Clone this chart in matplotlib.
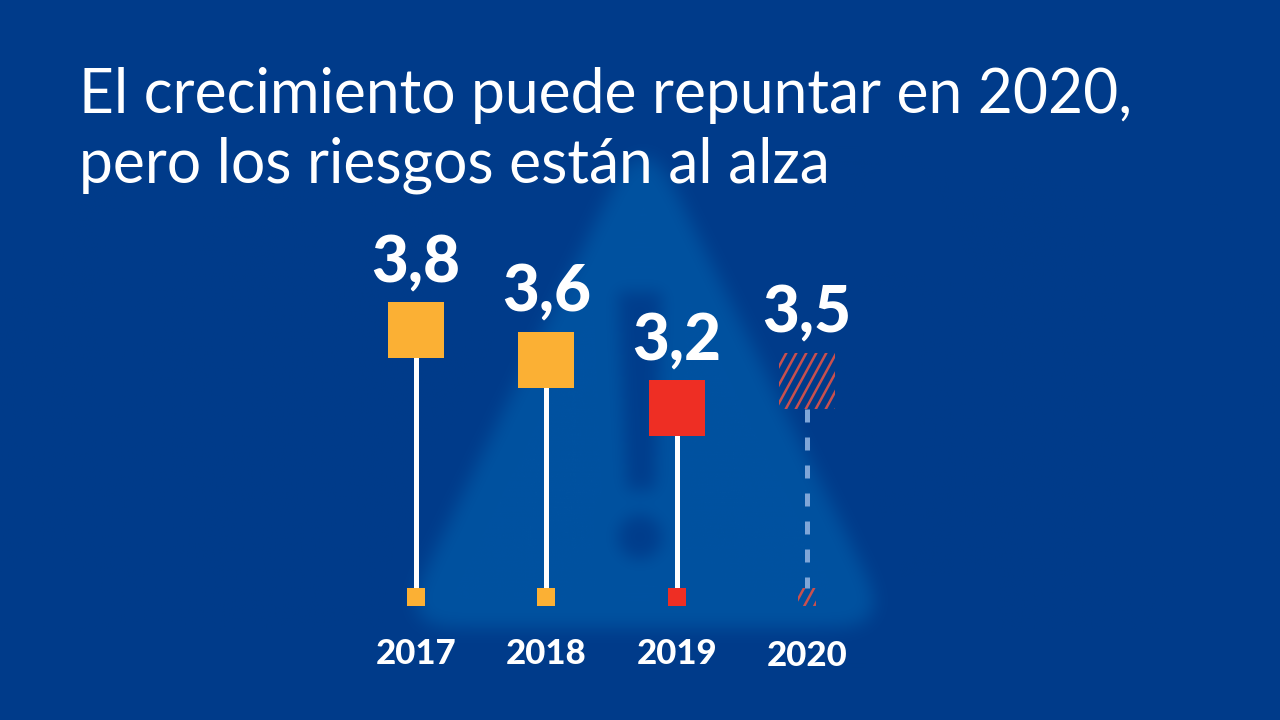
import matplotlib

matplotlib.use("Agg")
import matplotlib.pyplot as plt
import numpy as np
from matplotlib.patches import Rectangle
from matplotlib.path import Path
from matplotlib.transforms import IdentityTransform

years = ["2017", "2018", "2019", "2020"]
value_labels = ["3,8", "3,6", "3,2", "3,5"]
# heights (the original is not strictly to scale)
levels = [3.8, 3.57, 3.2, 3.41]
colors = ["#fbb034", "#fbb034", "#ee2e24", "#c9504f"]
forecast = [False, False, False, True]
title_lines = ["El crecimiento puede repuntar en 2020,", "pero los riesgos están al alza"]

BG = np.array([0x00, 0x3b, 0x8a]) / 255
TRI = np.array([0x01, 0x52, 0xa0]) / 255
W, H = 1280, 720
SQ = 56
SMALL = 18
PX_PER_UNIT = 130.0
PX_PER_CAT = 130.4
BASE = 1.746


def blur(a, sigma):
    r = int(sigma * 3)
    k = np.exp(-0.5 * (np.arange(-r, r + 1) / sigma) ** 2)
    k /= k.sum()
    fy = np.fft.rfft(a, axis=0)
    ky = np.fft.rfft(np.pad(k, (0, a.shape[0] - k.size)))
    a = np.roll(np.fft.irfft(fy * ky[:, None], n=a.shape[0], axis=0), -r, axis=0)
    fx = np.fft.rfft(a, axis=1)
    kx = np.fft.rfft(np.pad(k, (0, a.shape[1] - k.size)))
    return np.roll(np.fft.irfft(fx * kx[None, :], n=a.shape[1], axis=1), -r, axis=1)


def warning_sign():
    xx, yy = np.meshgrid(np.arange(W) + 0.5, np.arange(H) + 0.5)
    pts = np.column_stack([xx.ravel(), yy.ravel()])
    tri = Path([(643, 125), (893, 628), (397, 628)]).contains_points(pts).reshape(H, W).astype(float)
    tri = (blur(tri, 22) > 0.5).astype(float)
    tri = blur(tri, 9)
    bar = Path([(618, 292), (662, 292), (655, 490), (627, 490)]).contains_points(pts).reshape(H, W)
    dot = (xx - 640) ** 2 + (yy - 537) ** 2 < 22 ** 2
    mark = blur((bar | dot).astype(float), 8)
    alpha = np.clip(tri - 0.9 * mark, 0, 1)[..., None]
    return BG * (1 - alpha) + TRI * alpha


def hatched_square(ax, i, level, size, color):
    cx, cy = ax.transData.transform((i, level))
    clip = Rectangle((cx - size / 2, cy - size / 2), size, size, transform=IdentityTransform())
    for off in np.arange(-size, size, 10.0):
        line = ax.plot(
            [cx + off - size * 0.3, cx + off + size * 0.3],
            [cy - size * 0.55, cy + size * 0.55],
            color=color, lw=1.8, transform=IdentityTransform(), zorder=3,
        )[0]
        line.set_clip_path(clip)


fig = plt.figure(figsize=(12.8, 7.2), dpi=100)
bg_ax = fig.add_axes([0, 0, 1, 1])
bg_ax.imshow(warning_sign(), extent=(0, W, H, 0), aspect="auto", interpolation="bilinear")
bg_ax.axis("off")

ax = fig.add_axes([0, 0, 1, 1])
ax.patch.set_visible(False)
ax.axis("off")
ax.set_xlim(-416 / PX_PER_CAT, (W - 416) / PX_PER_CAT)
ax.set_ylim(3.8 - (H - 330) / PX_PER_UNIT, 3.8 + 330 / PX_PER_UNIT)

half = SQ / 2 / PX_PER_UNIT
for i, year in enumerate(years):
    if forecast[i]:
        ax.plot([i, i], [levels[i] - half, BASE + 9 / PX_PER_UNIT], color="#7fa6d8", lw=3.6,
                linestyle=(0, (2.6, 3.0)), dash_capstyle="butt", zorder=2)
        hatched_square(ax, i, levels[i], SQ, colors[i])
        hatched_square(ax, i, BASE, SMALL, colors[i])
    else:
        ax.plot([i, i], [levels[i], BASE], color="white", lw=3.6, solid_capstyle="butt", zorder=2)
        ax.plot([i], [levels[i]], marker="s", ms=SQ * 0.72, mew=0, color=colors[i], zorder=3)
        ax.plot([i], [BASE], marker="s", ms=SMALL * 0.72, mew=0, color=colors[i], zorder=3)
    ax.annotate(value_labels[i], (i, levels[i]), xytext=(0, (SQ / 2 + 20) * 0.72),
                textcoords="offset points", ha="center", va="baseline",
                color="white", fontsize=46, fontfamily="Lato", fontweight=900, zorder=4)
    drop = 666 if forecast[i] else 664
    ax.annotate(year, (i, BASE), xytext=(0, -(drop - 597) * 0.72),
                textcoords="offset points", ha="center", va="baseline",
                color="white", fontsize=25, fontfamily="Lato", fontweight=900, zorder=4)

fig.text(79 / W, 1 - 113 / H, title_lines[0], color="white", fontsize=43.6, fontfamily="Lato", va="baseline")
fig.text(79 / W, 1 - 183 / H, title_lines[1], color="white", fontsize=43.6, fontfamily="Lato", va="baseline")

fig.savefig("out.png", dpi=100)
plt.close(fig)
